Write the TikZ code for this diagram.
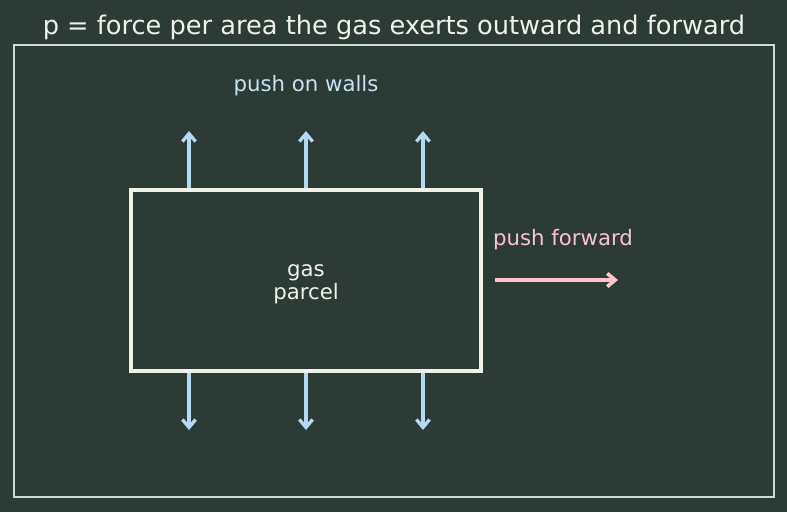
\documentclass[tikz,border=0pt]{standalone}
\usepackage{fontspec}
\setmainfont{DejaVu Sans}
\usetikzlibrary{positioning}
\usetikzlibrary{arrows.meta}

\definecolor{boardbg}{RGB}{44,59,53}
\definecolor{framecol}{RGB}{200,220,208}
\definecolor{chalk}{RGB}{240,242,232}
\definecolor{wallblue}{RGB}{180,218,242}
\definecolor{labelblue}{RGB}{200,226,242}
\definecolor{fwdpink}{RGB}{248,196,206}

\tikzset{
  wallarrow/.style={wallblue, line width=1.9pt, -{Straight Barb[length=4.5pt,width=7.5pt]}},
  fwdarrow/.style={fwdpink, line width=2.1pt, -{Straight Barb[length=4.5pt,width=7.5pt]}},
  parcelbox/.style={draw=chalk, line width=2pt, minimum width=7cm, minimum height=3.62cm,
    text=chalk, align=center, font=\fontsize{12.1}{13.2}\selectfont},
  lbl/.style={font=\fontsize{12.1}{14}\selectfont}
}

\begin{document}
\begin{tikzpicture}[x=0.02cm, y=-0.02cm]
		% Board
		\fill[boardbg] (0,0) rectangle (787,512);
		\useasboundingbox (0,0) rectangle (787,512);
		\draw[framecol, line width=0.85pt] (14,45) rectangle (774,497);

		% Title
		\node[chalk, font=\fontsize{14.6}{17}\selectfont] (title) at (394,27) {p = force per area the gas exerts outward and forward};

		% Gas parcel
		\node[parcelbox] (parcel) at (306,280.5) {};
		\node[parcelbox, draw=none] (gastext) at (306,284) {gas\\parcel};

		% Push on walls (up)
		\node[lbl, labelblue] (walls) at (306,86) {push on walls};
		\coordinate (up1) at (189,131);
		\coordinate (up2) at (306,131);
		\coordinate (up3) at (423,131);
		\draw[wallarrow] (up1 |- parcel.north) -- (up1);
		\draw[wallarrow] (up2 |- parcel.north) -- (up2);
		\draw[wallarrow] (up3 |- parcel.north) -- (up3);

		% Push on walls (down)
		\coordinate (dn1) at (189,430);
		\coordinate (dn2) at (306,430);
		\coordinate (dn3) at (423,430);
		\draw[wallarrow] (dn1 |- parcel.south) -- (dn1);
		\draw[wallarrow] (dn2 |- parcel.south) -- (dn2);
		\draw[wallarrow] (dn3 |- parcel.south) -- (dn3);

		% Push forward
		\node[lbl, fwdpink] (fwd) at (563,240) {push forward};
		\coordinate (fwdstart) at (495,280);
		\coordinate (fwdend) at (618,280);
		\draw[fwdarrow] (fwdstart) -- (fwdend);
	\end{tikzpicture}
\end{document}
